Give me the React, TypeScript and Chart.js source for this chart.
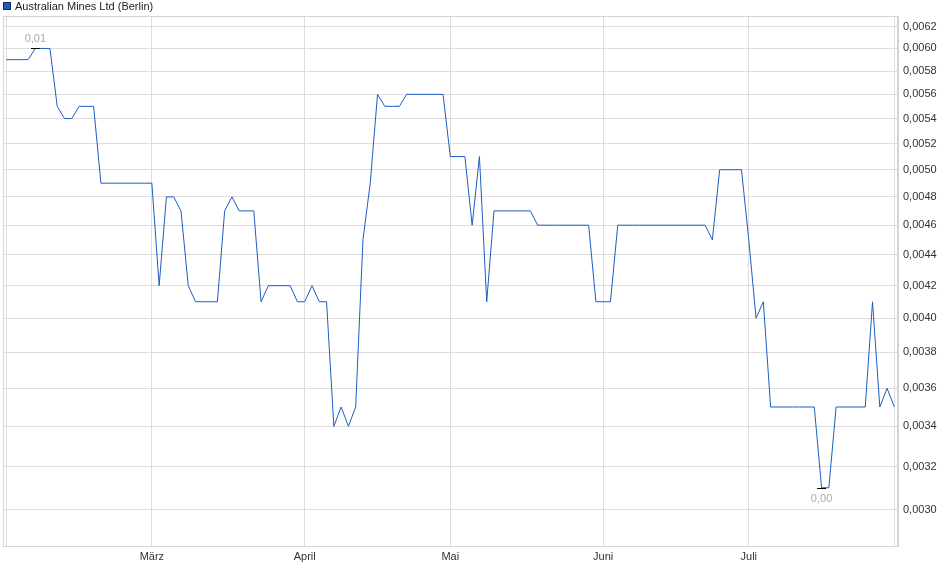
import { useRef, useEffect } from 'react';
import Chart from 'chart.js/auto';

// Kursverlauf, ein Wert pro Handelstag (Index 0 = erster Tag im Chart)
const prices: number[] = [
  0.0059, 0.0059, 0.0059, 0.0059, 0.0060, 0.0060, 0.0060, 0.0055, 0.0054, 0.0054,
  0.0055, 0.0055, 0.0055, 0.0049, 0.0049, 0.0049, 0.0049, 0.0049, 0.0049, 0.0049,
  0.0049, 0.0042, 0.0048, 0.0048, 0.0047, 0.0042, 0.0041, 0.0041, 0.0041, 0.0041,
  0.0047, 0.0048, 0.0047, 0.0047, 0.0047, 0.0041, 0.0042, 0.0042, 0.0042, 0.0042,
  0.0041, 0.0041, 0.0042, 0.0041, 0.0041, 0.0034, 0.0035, 0.0034, 0.0035, 0.0045,
  0.0049, 0.0056, 0.0055, 0.0055, 0.0055, 0.0056, 0.0056, 0.0056, 0.0056, 0.0056,
  0.0056, 0.0051, 0.0051, 0.0051, 0.0046, 0.0051, 0.0041, 0.0047, 0.0047, 0.0047,
  0.0047, 0.0047, 0.0047, 0.0046, 0.0046, 0.0046, 0.0046, 0.0046, 0.0046, 0.0046,
  0.0046, 0.0041, 0.0041, 0.0041, 0.0046, 0.0046, 0.0046, 0.0046, 0.0046, 0.0046,
  0.0046, 0.0046, 0.0046, 0.0046, 0.0046, 0.0046, 0.0046, 0.0045, 0.0050, 0.0050,
  0.0050, 0.0050, 0.0045, 0.0040, 0.0041, 0.0035, 0.0035, 0.0035, 0.0035, 0.0035,
  0.0035, 0.0035, 0.0031, 0.0031, 0.0035, 0.0035, 0.0035, 0.0035, 0.0035, 0.0041,
  0.0035, 0.0036, 0.0035,
];

// erster Handelstag jedes Monats (Index in prices)
const monthStarts: number[] = [20, 41, 61, 82, 102];
const monthNames: string[] = ['März', 'April', 'Mai', 'Juni', 'Juli'];

const yTicks: number[] = [
  0.0030, 0.0032, 0.0034, 0.0036, 0.0038, 0.0040, 0.0042, 0.0044,
  0.0046, 0.0048, 0.0050, 0.0052, 0.0054, 0.0056, 0.0058, 0.0060, 0.0062,
];

const seriesName = 'Australian Mines Ltd (Berlin)';
const lineColor = '#1c5dc2';
const gridColor = '#dddddd';
const font = 'Arial, "Liberation Sans", sans-serif';

const fmt = (v: number, digits: number) => v.toFixed(digits).replace('.', ',');

// Rahmen, Legende oben links und Markierung von Hoch/Tief
const framePlugin = {
  id: 'frame',
  beforeDatasetsDraw(chart: any) {
    const { ctx, chartArea: a } = chart;
    ctx.save();
    ctx.strokeStyle = '#d4d4d4';
    ctx.lineWidth = 1;
    ctx.strokeRect(a.left + 0.5, a.top + 0.5, a.right - a.left - 1, a.bottom - a.top);
    ctx.restore();
  },
  afterDraw(chart: any) {
    const { ctx } = chart;
    ctx.save();
    // legend
    ctx.fillStyle = lineColor;
    ctx.fillRect(3, 2, 8, 8);
    ctx.strokeStyle = '#1a2a50';
    ctx.lineWidth = 1;
    ctx.strokeRect(3.5, 2.5, 7, 7);
    ctx.fillStyle = '#222';
    ctx.font = `11px ${font}`;
    ctx.textBaseline = 'middle';
    ctx.textAlign = 'left';
    ctx.fillText(seriesName, 15, 6.5);

    // high / low
    const meta = chart.getDatasetMeta(0);
    const hi = prices.indexOf(Math.max(...prices));
    const lo = prices.indexOf(Math.min(...prices));
    const mark = (idx: number, above: boolean) => {
      const p = meta.data[idx];
      ctx.strokeStyle = '#000';
      ctx.beginPath();
      ctx.moveTo(p.x - 4.5, Math.round(p.y) + 0.5);
      ctx.lineTo(p.x + 4.5, Math.round(p.y) + 0.5);
      ctx.stroke();
      ctx.fillStyle = '#aaaaaa';
      ctx.textAlign = 'center';
      ctx.fillText(fmt(prices[idx], 2), p.x, above ? p.y - 9 : p.y + 11);
    };
    mark(hi, true);
    mark(lo, false);
    ctx.restore();
  },
};

export default function App() {
  const canvasRef = useRef<HTMLCanvasElement>(null);

  useEffect(() => {
    const canvas = canvasRef.current;
    if (!canvas) return;
    const chart = new Chart(canvas, {
      type: 'line',
      data: {
        datasets: [{
          label: seriesName,
          data: prices.map((p, i) => ({ x: i, y: p })),
          borderColor: lineColor,
          borderWidth: 1,
          pointRadius: 0,
          tension: 0,
        }],
      },
      options: {
        animation: false,
        responsive: false,
        layout: { padding: { left: 3, top: 16, right: 0, bottom: 0 } },
        plugins: { legend: { display: false }, tooltip: { enabled: false } },
        scales: {
          x: {
            type: 'linear',
            bounds: 'data',
            min: -0.45,
            max: 122.5,
            afterBuildTicks: (scale: any) => {
              scale.ticks = [0, ...monthStarts, prices.length - 1].map(v => ({ value: v }));
            },
            afterFit: (scale: any) => { scale.height = 33; },
            grid: { color: gridColor, drawTicks: false },
            border: { color: '#d4d4d4' },
            ticks: {
              autoSkip: false,
              maxRotation: 0,
              padding: 4,
              color: '#333',
              font: { family: font, size: 11 },
              callback: (v: any) => {
                const k = monthStarts.indexOf(Number(v));
                return k >= 0 ? monthNames[k] : '';
              },
            },
          },
          y: {
            type: 'logarithmic',
            position: 'right',
            bounds: 'data',
            min: 0.00284,
            max: 0.0063,
            afterBuildTicks: (scale: any) => {
              scale.ticks = yTicks.map(v => ({ value: v }));
            },
            afterFit: (scale: any) => { scale.width = 42; },
            grid: { color: gridColor, drawTicks: false },
            border: { color: '#d4d4d4' },
            ticks: {
              padding: 5,
              color: '#333',
              font: { family: font, size: 11 },
              callback: (v: any) => fmt(Number(v), 4),
            },
          },
        },
      },
      plugins: [framePlugin],
    });
    return () => {
      chart.destroy();
    };
  }, []);

  return (
    <div style={{ position: 'fixed', left: 0, top: 0, width: 940, height: 579, background: '#fff' }}>
      <canvas ref={canvasRef} width={940} height={579} style={{ width: 940, height: 579 }} />
    </div>
  );
}
